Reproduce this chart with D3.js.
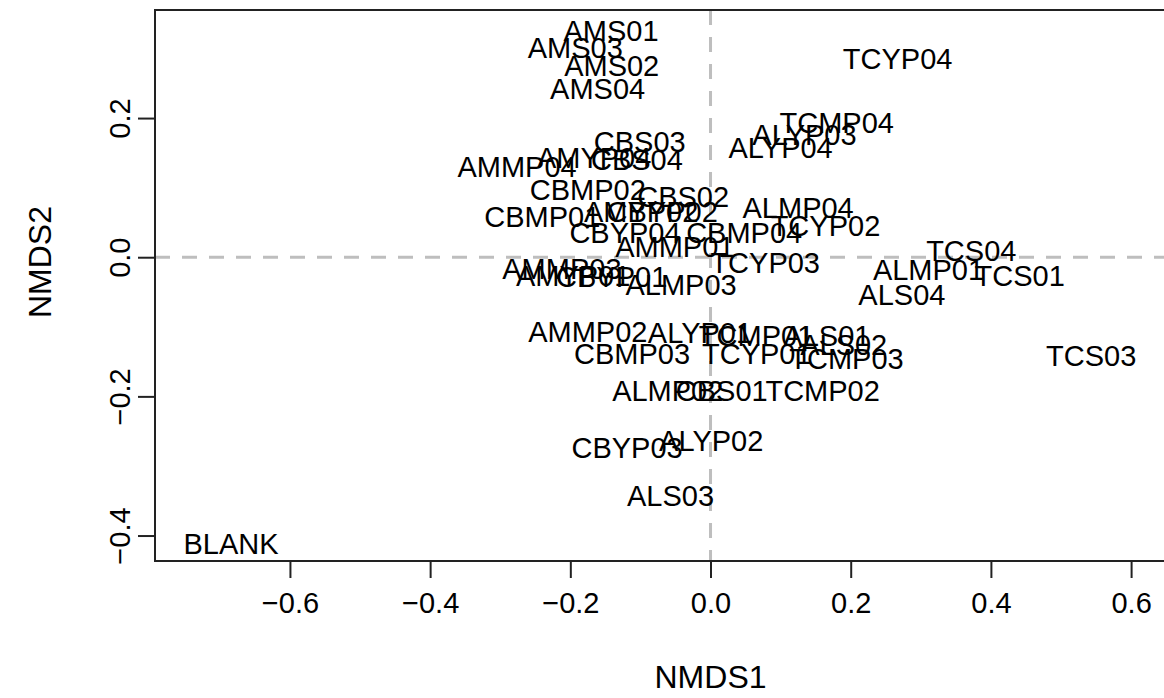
<!DOCTYPE html>
<html>
<head>
<meta charset="utf-8">
<script src="https://cdn.jsdelivr.net/npm/d3@7"></script>
<style>
  body { margin: 0; background: #fff; }
  text { font-family: Arial, "Liberation Sans", sans-serif; fill: #000; }
</style>
</head>
<body>
<div id="scatter"></div>
<script>
// site scores (label centres)
var sampleLabels = [
  "AMS01", "AMS02", "AMS03", "AMS04",
  "AMMP01", "AMMP02", "AMMP03", "AMMP04",
  "AMYP01", "AMYP02", "AMYP04",
  "CBS01", "CBS02", "CBS03", "CBS04",
  "CBMP01", "CBMP02", "CBMP03", "CBMP04",
  "CBYP01", "CBYP02", "CBYP03", "CBYP04",
  "ALS01", "ALS02", "ALS03", "ALS04",
  "ALMP01", "ALMP02", "ALMP03", "ALMP04",
  "ALYP01", "ALYP02", "ALYP03", "ALYP04",
  "TCS01", "TCS03", "TCS04",
  "TCMP01", "TCMP02", "TCMP03", "TCMP04",
  "TCYP01", "TCYP02", "TCYP03", "TCYP04",
  "BLANK"
];

var nmds1Values = [
  -0.142, -0.141, -0.193, -0.161,
  -0.051, -0.175, -0.212, -0.276,
  -0.196, -0.099, -0.166,
  0.016, -0.039, -0.101, -0.105,
  -0.240, -0.175, -0.112, 0.048,
  -0.141, -0.069, -0.119, -0.122,
  0.166, 0.190, -0.057, 0.273,
  0.311, -0.061, -0.042, 0.125,
  -0.015, 0.001, 0.134, 0.100,
  0.441, 0.543, 0.372,
  0.065, 0.160, 0.194, 0.180,
  0.066, 0.164, 0.078, 0.267,
  -0.684
];

var nmds2Values = [
  0.326, 0.276, 0.301, 0.243,
  0.016, -0.107, -0.016, 0.131,
  -0.027, 0.066, 0.143,
  -0.192, 0.087, 0.166, 0.141,
  0.059, 0.097, -0.139, 0.035,
  -0.028, 0.066, -0.274, 0.035,
  -0.112, -0.126, -0.343, -0.054,
  -0.018, -0.192, -0.039, 0.072,
  -0.108, -0.264, 0.176, 0.157,
  -0.027, -0.141, 0.009,
  -0.112, -0.192, -0.145, 0.194,
  -0.138, 0.046, -0.007, 0.286,
  -0.411
];

var xTickValues = [-0.6, -0.4, -0.2, 0.0, 0.2, 0.4, 0.6];
var yTickValues = [-0.4, -0.2, 0.0, 0.2];

var svgWidth = 1164;
var svgHeight = 698;

var chartMargin = {
  top: 10,
  right: -6,
  bottom: 137,
  left: 155
};

var chartWidth = svgWidth - chartMargin.left - chartMargin.right;
var chartHeight = svgHeight - chartMargin.top - chartMargin.bottom;

var svg = d3
  .select("#scatter")
  .append("svg")
  .attr("height", svgHeight)
  .attr("width", svgWidth);

var chartGroup = svg.append("g")
  .attr("transform", `translate(${chartMargin.left}, ${chartMargin.top})`);

var xScale = d3.scaleLinear()
  .domain([-0.7925, 0.6555])
  .range([0, chartWidth]);

var yScale = d3.scaleLinear()
  .domain([-0.4366, 0.3553])
  .range([chartHeight, 0]);

var data = sampleLabels.map((name, i) => ({
  name: name,
  x: nmds1Values[i],
  y: nmds2Values[i]
}));

// dashed reference lines at zero
chartGroup.append("line")
  .attr("x1", xScale(0)).attr("x2", xScale(0))
  .attr("y1", 0).attr("y2", chartHeight)
  .attr("stroke", "#bebebe")
  .attr("stroke-width", 3)
  .attr("stroke-dasharray", "15,12");

chartGroup.append("line")
  .attr("x1", 0).attr("x2", chartWidth)
  .attr("y1", yScale(0)).attr("y2", yScale(0))
  .attr("stroke", "#bebebe")
  .attr("stroke-width", 3)
  .attr("stroke-dasharray", "15,12");

// site labels
chartGroup.selectAll(".site")
  .data(data)
  .enter()
  .append("text")
  .attr("class", "site")
  .attr("x", d => xScale(d.x))
  .attr("y", d => yScale(d.y))
  .attr("dy", "0.36em")
  .attr("text-anchor", "middle")
  .style("font-size", "29px")
  .text(d => d.name);

// frame
chartGroup.append("rect")
  .attr("x", 0)
  .attr("y", 0)
  .attr("width", chartWidth)
  .attr("height", chartHeight)
  .attr("fill", "none")
  .attr("stroke", "#222")
  .attr("stroke-width", 2);

var bottomAxis = d3.axisBottom(xScale)
  .tickValues(xTickValues)
  .tickFormat(d3.format(".1f"))
  .tickSize(17)
  .tickSizeOuter(0);

var leftAxis = d3.axisLeft(yScale)
  .tickValues(yTickValues)
  .tickFormat(d3.format(".1f"))
  .tickSize(17)
  .tickSizeOuter(0);

var x_axis = chartGroup.append("g")
  .attr("transform", `translate(0, ${chartHeight})`)
  .call(bottomAxis);

x_axis.select(".domain").remove();
x_axis.selectAll("line").attr("stroke", "#222").attr("stroke-width", 2);
x_axis.selectAll("text")
  .attr("y", 42)
  .attr("dy", "0.36em")
  .style("font-size", "29px")
  .style("font-family", "Arial, 'Liberation Sans', sans-serif")
  .attr("fill", "#000");

var y_axis = chartGroup.append("g")
  .call(leftAxis);

y_axis.select(".domain").remove();
y_axis.selectAll("line").attr("stroke", "#222").attr("stroke-width", 2);
y_axis.selectAll("text")
  .attr("x", null)
  .attr("dy", null)
  .attr("text-anchor", "middle")
  .attr("transform", "translate(-25, 0) rotate(-90)")
  .style("font-size", "29px")
  .style("font-family", "Arial, 'Liberation Sans', sans-serif")
  .attr("fill", "#000");

// axis titles
svg.append("text")
  .attr("x", xScale(0) + chartMargin.left)
  .attr("y", 676)
  .attr("dy", "0.36em")
  .attr("text-anchor", "middle")
  .style("font-size", "32px")
  .text("NMDS1");

svg.append("text")
  .attr("transform", "translate(51, 262) rotate(-90)")
  .attr("text-anchor", "middle")
  .style("font-size", "32px")
  .text("NMDS2");
</script>
</body>
</html>
